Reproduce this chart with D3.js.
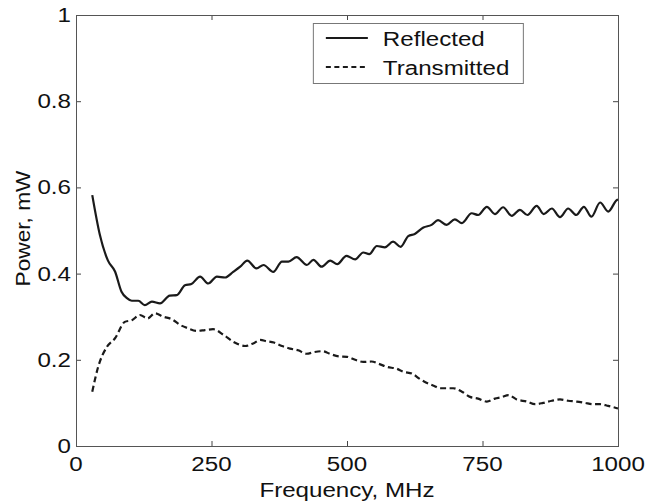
<!DOCTYPE html>
<html>
<head>
<meta charset="utf-8">
<script src="https://cdn.jsdelivr.net/npm/d3@7"></script>
<style>
  body { margin: 0; background: #fff; }
  text { font-family: "Liberation Sans", Arial, Helvetica, sans-serif; fill: #111; }
</style>
</head>
<body>
<div class="chart"></div>
<script>
const svgWidth = 647;
const svgHeight = 504;

// values (frequency in MHz, power in mW)
const reflectedFreq = [30, 44, 59, 72, 84, 94, 103, 115, 127, 140, 155, 173, 186, 201, 213, 229, 244, 260, 275, 290, 303, 316, 333, 346, 364, 380, 392, 407, 426, 438, 453, 469, 482, 499, 515, 530, 541, 555, 570, 585, 599, 613, 625, 641, 656, 668, 684, 699, 712, 730, 742, 758, 773, 788, 804, 819, 833, 850, 863, 878, 893, 908, 923, 937, 951, 967, 982, 998, 1000];
const reflectedPower = [0.582, 0.49, 0.43, 0.405, 0.358, 0.343, 0.337, 0.337, 0.327, 0.335, 0.331, 0.349, 0.35, 0.373, 0.376, 0.393, 0.377, 0.393, 0.391, 0.404, 0.416, 0.43, 0.412, 0.42, 0.404, 0.428, 0.428, 0.438, 0.42, 0.432, 0.416, 0.43, 0.422, 0.441, 0.433, 0.449, 0.445, 0.464, 0.461, 0.474, 0.462, 0.487, 0.492, 0.507, 0.513, 0.524, 0.513, 0.526, 0.517, 0.54, 0.536, 0.555, 0.538, 0.554, 0.534, 0.548, 0.536, 0.557, 0.538, 0.551, 0.531, 0.551, 0.536, 0.555, 0.532, 0.565, 0.544, 0.571, 0.572];

const transmittedFreq = [30, 41, 57, 72, 90, 103, 118, 132, 146, 161, 177, 192, 207, 223, 238, 253, 272, 290, 312, 327, 340, 352, 365, 380, 395, 410, 425, 440, 455, 470, 485, 500, 515, 530, 545, 560, 575, 590, 605, 620, 635, 650, 660, 672, 696, 712, 727, 742, 758, 773, 785, 798, 813, 832, 847, 862, 878, 893, 908, 924, 939, 954, 967, 982, 1000];
const transmittedPower = [0.126, 0.184, 0.23, 0.25, 0.288, 0.292, 0.304, 0.296, 0.308, 0.3, 0.294, 0.281, 0.273, 0.267, 0.269, 0.271, 0.258, 0.242, 0.232, 0.238, 0.246, 0.243, 0.24, 0.232, 0.226, 0.222, 0.214, 0.218, 0.22, 0.213, 0.208, 0.207, 0.2, 0.195, 0.196, 0.19, 0.183, 0.18, 0.172, 0.168, 0.155, 0.145, 0.14, 0.134, 0.134, 0.126, 0.114, 0.11, 0.103, 0.11, 0.113, 0.118, 0.108, 0.103, 0.097, 0.1, 0.105, 0.108, 0.105, 0.103, 0.1, 0.097, 0.097, 0.093, 0.087];

const xTicks = [0, 250, 500, 750, 1000];
const yTicks = [0, 0.2, 0.4, 0.6, 0.8, 1];
const seriesNames = ['Reflected', 'Transmitted'];

const margin = { top: 15, right: 29, bottom: 58, left: 76 };
const width = svgWidth - margin.left - margin.right;
const height = svgHeight - margin.top - margin.bottom;

// the scanned text is a bit wider than it is tall
const stretch = 1.15;

const svg = d3.select('.chart')
  .append('svg')
  .attr('width', svgWidth)
  .attr('height', svgHeight);

const chartGroup = svg.append('g')
  .attr('transform', `translate(${margin.left}, ${margin.top})`);

const x = d3.scaleLinear().domain([0, 1000]).range([0, width]);
const y = d3.scaleLinear().domain([0, 1]).range([height, 0]);

function styleAxis(g) {
  g.select('.domain').remove();
  g.selectAll('.tick line').attr('stroke', '#444').attr('stroke-width', 1);
  g.selectAll('.tick text').remove();
}

// inward ticks on all four sides
chartGroup.append('g')
  .attr('transform', `translate(0, ${height})`)
  .call(d3.axisBottom(x).tickValues(xTicks).tickSize(-5))
  .call(styleAxis);
chartGroup.append('g')
  .call(d3.axisTop(x).tickValues(xTicks).tickSize(-5))
  .call(styleAxis);
chartGroup.append('g')
  .call(d3.axisLeft(y).tickValues(yTicks).tickSize(-5))
  .call(styleAxis);
chartGroup.append('g')
  .attr('transform', `translate(${width}, 0)`)
  .call(d3.axisRight(y).tickValues(yTicks).tickSize(-5))
  .call(styleAxis);

chartGroup.append('rect')
  .attr('x', 0.5).attr('y', 0.5)
  .attr('width', width).attr('height', height)
  .attr('fill', 'none')
  .attr('stroke', '#555')
  .attr('stroke-width', 1);

function label(parent, px, py, txt, anchor, size, rotate) {
  const g = parent.append('g')
    .attr('transform', `translate(${px}, ${py}) rotate(${rotate || 0}) scale(${rotate ? 1.08 : stretch}, 1)`);
  g.append('text')
    .attr('text-anchor', anchor)
    .style('font-size', `${size}px`)
    .text(txt);
  return g;
}

const fmt = d => d === 0 || d === 1 ? String(d) : d3.format('.1f')(d);

yTicks.forEach(t => label(chartGroup, -5, y(t) + 7, fmt(t), 'end', 21));
xTicks.forEach(t => label(chartGroup, x(t), height + 25, String(t), 'middle', 21));

label(chartGroup, width / 2, height + 51, 'Frequency, MHz', 'middle', 21);
label(svg, 30, margin.top + height / 2 - 2, 'Power, mW', 'middle', 21, -90);

const line = d3.line()
  .x(d => x(d[0]))
  .y(d => y(d[1]))
  .curve(d3.curveMonotoneX);

const reflected = reflectedFreq.map((f, i) => [f, reflectedPower[i]]);
const transmitted = transmittedFreq.map((f, i) => [f, transmittedPower[i]]);

chartGroup.append('path')
  .datum(reflected)
  .attr('d', line)
  .attr('fill', 'none')
  .attr('stroke', '#1a1a1a')
  .attr('stroke-width', 2.2);

chartGroup.append('path')
  .datum(transmitted)
  .attr('d', line)
  .attr('fill', 'none')
  .attr('stroke', '#1a1a1a')
  .attr('stroke-width', 2.2)
  .attr('stroke-dasharray', '6,3.5');

// legend
const legend = chartGroup.append('g')
  .attr('transform', `translate(${x(437)}, 8)`);

legend.append('rect')
  .attr('x', 0.5).attr('y', 0.5)
  .attr('width', 210).attr('height', 60)
  .attr('fill', '#fff')
  .attr('stroke', '#777')
  .attr('stroke-width', 1);

seriesNames.forEach((name, i) => {
  const ly = 15 + i * 29;
  legend.append('line')
    .attr('x1', 13).attr('x2', 55)
    .attr('y1', ly).attr('y2', ly)
    .attr('stroke', '#1a1a1a')
    .attr('stroke-width', 2)
    .attr('stroke-dasharray', i === 1 ? '5,3.5' : null);
  label(legend, 70, ly + 8, name, 'start', 21);
});
</script>
</body>
</html>
